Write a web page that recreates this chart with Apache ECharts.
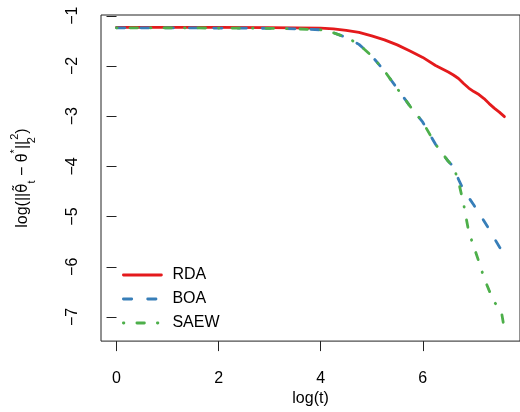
<!DOCTYPE html>
<html><head><meta charset="utf-8">
<script src="https://cdn.jsdelivr.net/npm/echarts@6/dist/echarts.min.js"></script>
<style>html,body{margin:0;padding:0;background:#fff}#c{width:520px;height:412px}</style>
</head><body><div id="c"></div>
<script>
// x values: log(t)
const logT = [0, 1, 2, 3, 3.5, 4, 4.25, 4.5, 4.75, 5, 5.25, 5.5, 5.75, 6, 6.25, 6.5, 6.6, 6.7, 6.8, 6.9, 7.0, 7.1, 7.2, 7.3, 7.4, 7.5, 7.55, 7.6];
const rda  = [-1.23, -1.23, -1.23, -1.235, -1.24, -1.245, -1.26, -1.29, -1.33, -1.40, -1.48, -1.58, -1.70, -1.83, -1.99, -2.12, -2.18, -2.25, -2.35, -2.44, -2.51, -2.57, -2.65, -2.75, -2.84, -2.92, -2.965, -3.01];
const boa  = [-1.24, -1.24, -1.245, -1.25, -1.26, -1.28, -1.34, -1.43, -1.57, -1.80, -2.10, -2.45, -2.80, -3.12, -3.56, -3.90, -4.00, -4.26, -4.47, -4.62, -4.77, -4.93, -5.09, -5.25, -5.43, -5.60, -5.68, -5.76];
const saew = [-1.24, -1.24, -1.245, -1.25, -1.26, -1.28, -1.34, -1.43, -1.57, -1.80, -2.10, -2.45, -2.80, -3.12, -3.56, -3.90, -4.00, -4.30, -4.75, -5.30, -5.60, -5.90, -6.22, -6.47, -6.70, -6.83, -6.95, -7.25];
const seriesNames = ['RDA', 'BOA', 'SAEW'];
const xTicks = [0, 2, 4, 6];
const yTicks = [-7, -6, -5, -4, -3, -2, -1];

const FONT = 'Liberation Sans, Arial, Helvetica, sans-serif';
const chart = echarts.init(document.getElementById('c'), null, {renderer: 'canvas'});
const minus = v => String(v).replace('-', '\u2212');
const pts = ys => logT.map((x, i) => [x, ys[i]]);

const option = {
  backgroundColor: '#fff',
  animation: false,
  textStyle: {fontFamily: FONT},
  grid: {left: 101, top: 15, width: 423, height: 329, show: true, borderColor: '#222', borderWidth: 1, containLabel: false},
  xAxis: {
    type: 'value', min: -0.304, max: 7.905,
    name: 'log(t)', nameLocation: 'middle', nameGap: 46,
    nameTextStyle: {fontSize: 16, color: '#000', fontFamily: FONT},
    axisLine: {show: false},
    axisTick: {show: true, customValues: xTicks, length: 10, lineStyle: {color: '#222', width: 1}},
    axisLabel: {customValues: xTicks, fontSize: 16, color: '#000', margin: 29, fontFamily: FONT, formatter: minus},
    splitLine: {show: false}
  },
  yAxis: {
    type: 'value', min: -7.48, max: -0.985,
    name: '{n|log(||}{th|\u03b8\u0303}{s|t}{n| \u2212 \u03b8}{p|*}{n|||}{s2|2}{p|2}{n|)}',
    nameLocation: 'middle', nameGap: 64, nameRotate: 90,
    nameTextStyle: {
      fontSize: 16, color: '#000', fontFamily: FONT,
      rich: {
        n: {fontSize: 16, lineHeight: 28, fontFamily: FONT, color: '#000'},
        th: {fontSize: 15, lineHeight: 28, fontFamily: 'DejaVu Sans', color: '#000'},
        s: {fontSize: 11, lineHeight: 12, verticalAlign: 'bottom', fontFamily: FONT, color: '#000'},
        s2: {fontSize: 11, lineHeight: 12, verticalAlign: 'bottom', width: 1, fontFamily: FONT, color: '#000'},
        p: {fontSize: 11, lineHeight: 14, verticalAlign: 'top', fontFamily: FONT, color: '#000'}
      }
    },
    axisLine: {show: false},
    axisTick: {show: true, customValues: yTicks, length: 10, lineStyle: {color: '#222', width: 1}},
    axisLabel: {customValues: yTicks, rotate: 90, fontSize: 16, color: '#000', margin: 20, fontFamily: FONT, formatter: minus},
    splitLine: {show: false}
  },
  legend: {
    data: seriesNames, orient: 'vertical', left: 117, top: 262,
    itemWidth: 38, itemHeight: 16, itemGap: 8,
    itemStyle: {opacity: 0},
    lineStyle: {width: 'inherit'},
    textStyle: {fontSize: 16, color: '#000', fontFamily: FONT, padding: [0, 0, 0, 6]}
  },
  series: [
    {name: 'RDA', type: 'line', data: pts(rda), symbol: 'none', clip: true,
     itemStyle: {color: '#E41A1C'}, lineStyle: {color: '#E41A1C', width: 2.8, type: 'solid', cap: 'round'}},
    {name: 'BOA', type: 'line', data: pts(boa), symbol: 'none', clip: true,
     itemStyle: {color: '#377EB8'}, lineStyle: {color: '#377EB8', width: 2.8, type: [8.3, 16], cap: 'round'}},
    {name: 'SAEW', type: 'line', data: pts(saew), symbol: 'none', clip: true,
     itemStyle: {color: '#4DAF4A'}, lineStyle: {color: '#4DAF4A', width: 2.8, type: [0.5, 13, 7.5, 13], cap: 'round'}}
  ]
};
chart.setOption(option);
</script>
</body></html>
